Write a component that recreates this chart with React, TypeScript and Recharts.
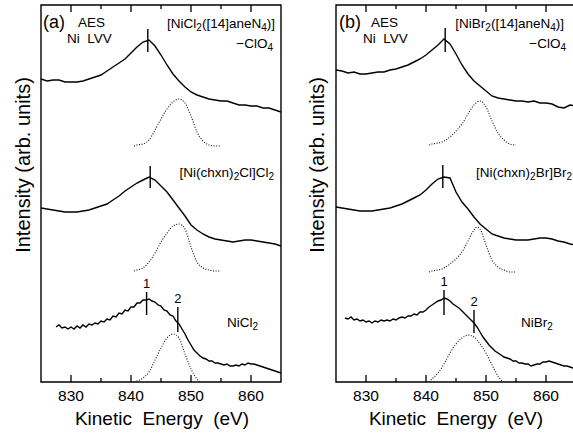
import React from "react";
import {
  LineChart,
  Line,
  XAxis,
  YAxis,
  ReferenceArea,
  ReferenceLine,
} from "recharts";

// kinetic energy grid (eV) shared by the full-range spectra
const energyFull = [
  825, 826, 827, 828, 829, 830, 831, 832, 833, 834, 835, 836, 837, 838, 839,
  840, 841, 842, 843, 844, 845, 846, 847, 848, 849, 850, 851, 852, 853, 854,
  855, 856, 857, 858, 859, 860, 861, 862, 863, 864, 865,
];
const xTicks = [830, 835, 840, 845, 850, 855, 860];

// (a) chloride series, intensities in arb. units (offset stacked)
const aClO4 = [
  303, 301, 302, 302, 300, 300, 300, 301, 303, 305, 307, 311, 315, 319, 323,
  329, 335, 340, 342, 336, 327, 317, 308, 301, 295, 290, 287, 285, 283, 282,
  281, 281, 279, 277, 277, 276, 276, 274, 274, 272, 270,
];
const aChxnCl = [
  174, 173, 172, 171, 170, 170, 170, 171, 172, 174, 176, 178, 182, 186, 191,
  195, 199, 202, 205, 202, 196, 190, 182, 174, 166, 157, 152, 148, 145, 143,
  142, 141, 140, 141, 142, 142, 141, 140, 139, 138, 136,
];
// NiCl2 spectrum, [energy, intensity]
const aNiCl2: [number, number][] = [
  [827.5, 55], [828, 57], [828.5, 54], [829, 55], [829.5, 53], [830, 55], [830.5, 53],
  [831, 56], [831.5, 54], [832, 57], [832.5, 55], [833, 58], [833.5, 57], [834, 59],
  [834.5, 58], [835, 61], [835.5, 60], [836, 63], [836.5, 62], [837, 66], [837.5, 65],
  [838, 69], [838.5, 68], [839, 72], [839.5, 71], [840, 75], [840.5, 75], [841, 79],
  [841.5, 79], [842, 82], [842.5, 82], [843, 83], [843.5, 81], [844, 80], [844.5, 77],
  [845, 76], [845.5, 72], [846, 71], [846.5, 67], [847, 66], [847.5, 61], [848, 58],
  [848.5, 53], [849, 48], [849.5, 42], [850, 37], [850.5, 32], [851, 29], [851.5, 26],
  [852, 24], [852.5, 23], [853, 21], [853.5, 21], [854, 19], [854.5, 19], [855, 18],
  [855.5, 17], [856, 18], [856.5, 16], [857, 16], [857.5, 17], [858, 16], [858.5, 18],
  [859, 17], [859.5, 19], [860, 18], [860.5, 18], [861, 17], [861.5, 16], [862, 15],
  [862.5, 14], [863, 13], [863.5, 12], [864, 11], [864.5, 10], [865, 9],
];
const fitE = [
  840.5, 841, 842, 843, 844, 845, 846, 847, 848, 849, 850, 851, 852, 853, 854,
  855,
];
const aFitClO4 = [
  236, 237, 238, 242, 252, 263, 273, 280, 283, 279, 266, 250, 241, 237, 236,
  236,
];
const aFitChxnCl = [
  111, 112, 114, 120, 129, 140, 149, 156, 158, 153, 135, 120, 114, 112, 111,
  111,
];
const aFitNiCl2E = [840.5, 841, 842, 843, 844, 845, 846, 847, 848, 849, 850, 851, 851.5];
const aFitNiCl2 = [0, 1, 4, 10, 22, 34, 44, 48, 44, 28, 13, 3, 0];

// (b) bromide series
const bClO4 = [
  312, 311, 309, 310, 308, 308, 309, 310, 310, 312, 313, 315, 317, 320, 323,
  327, 332, 337, 343, 338, 328, 317, 308, 301, 296, 291, 286, 284, 283, 282,
  281, 281, 280, 281, 279, 279, 278, 275, 274, 277, 276,
];
const bChxnBr = [
  175, 174, 173, 172, 171, 171, 171, 172, 173, 174, 176, 178, 181, 184, 187,
  192, 198, 203, 205, 204, 190, 180, 173, 165, 158, 153, 148, 146, 144, 143,
  142, 142, 142, 143, 144, 144, 143, 141, 140, 138, 137,
];
const bNiBr2: [number, number][] = [
  [826.5, 64], [827, 63], [827.5, 65], [828, 62], [828.5, 63], [829, 61], [829.5, 62],
  [830, 60], [830.5, 61], [831, 59], [831.5, 61], [832, 60], [832.5, 62], [833, 61],
  [833.5, 62], [834, 61], [834.5, 63], [835, 62], [835.5, 64], [836, 65], [836.5, 64],
  [837, 66], [837.5, 66], [838, 68], [838.5, 67], [839, 70], [839.5, 70], [840, 72],
  [840.5, 75], [841, 77], [841.5, 79], [842, 81], [842.5, 82], [843, 84], [843.5, 83],
  [844, 81], [844.5, 78], [845, 76], [845.5, 74], [846, 71], [846.5, 68], [847, 65],
  [847.5, 62], [848, 59], [848.5, 55], [849, 50], [849.5, 45], [850, 41], [850.5, 37],
  [851, 34], [851.5, 31], [852, 29], [852.5, 27], [853, 25], [853.5, 24], [854, 23],
  [854.5, 21], [855, 21], [855.5, 19], [856, 19], [856.5, 18], [857, 18], [857.5, 16],
  [858, 17], [858.5, 18], [859, 18], [859.5, 20], [860, 20], [860.5, 21], [861, 20],
  [861.5, 19], [862, 18], [862.5, 17], [863, 16], [863.5, 16], [864, 15], [864.5, 14],
  [865, 14],
];
const bFitClO4 = [
  237, 238, 239, 241, 245, 251, 258, 268, 277, 281, 275, 261, 249, 242, 238,
  237,
];
const bFitChxnBrE = [
  840.5, 841, 842, 843, 844, 845, 846, 847, 848, 848.5, 849, 850, 851, 852, 853,
  854, 855,
];
const bFitChxnBr = [
  110, 111, 112, 114, 118, 123, 130, 141, 152, 155, 153, 137, 122, 115, 112,
  110, 110,
];
const bFitNiBr2E = [840.5, 841, 842, 843, 844, 845, 846, 847, 848, 849, 850, 851, 852, 852.8];
const bFitNiBr2 = [0, 3, 9, 18, 29, 38, 44, 47, 45, 38, 29, 17, 6, 0];

// peak markers: energy, low, high (arb. units)
const aMarkers = [
  { e: 842.8, lo: 330, hi: 353, label: "" },
  { e: 843.2, lo: 194, hi: 216, label: "" },
  { e: 842.6, lo: 67, hi: 90, label: "1" },
  { e: 847.8, lo: 50, hi: 75, label: "2" },
];
const bMarkers = [
  { e: 843.2, lo: 330, hi: 354, label: "" },
  { e: 842.8, lo: 194, hi: 217, label: "" },
  { e: 843.0, lo: 67, hi: 92, label: "1" },
  { e: 848.0, lo: 49, hi: 72, label: "2" },
];

const FONT = "'Liberation Sans', Arial, Helvetica, sans-serif";

const zip = (es: number[], vs: number[]) => es.map((e, i) => ({ e, v: vs[i] }));
const fromPairs = (ps: [number, number][]) => ps.map(([e, v]) => ({ e, v }));

function BottomTick(props: any) {
  const { x, y, payload } = props;
  const major = payload.value % 10 === 0;
  return (
    <g>
      <line x1={x} x2={x} y1={y} y2={y - (major ? 7 : 4)} stroke="#000" strokeWidth={1.3} />
      {major && (
        <text x={x} y={y + 19} textAnchor="middle" fontSize={15.5} fontFamily={FONT} fill="#000">
          {payload.value}
        </text>
      )}
    </g>
  );
}

function TopTick(props: any) {
  const { x, y, payload } = props;
  const major = payload.value % 10 === 0;
  return <line x1={x} x2={x} y1={y} y2={y + (major ? 7 : 4)} stroke="#000" strokeWidth={1.3} />;
}

interface PanelProps {
  solid: { e: number; v: number }[][];
  dotted: { e: number; v: number }[][];
  markers: { e: number; lo: number; hi: number; label: string }[];
}

function Panel({ solid, dotted, markers }: PanelProps) {
  return (
    <LineChart width={290} height={433} margin={{ top: 4, right: 9, bottom: 50, left: 41 }}>
      <XAxis
        dataKey="e"
        type="number"
        domain={[825, 865]}
        ticks={xTicks}
        interval={0}
        height={1}
        tickSize={0}
        tickMargin={0}
        axisLine={false}
        tick={<BottomTick />}
        allowDataOverflow
      />
      <XAxis
        xAxisId="top"
        orientation="top"
        dataKey="e"
        type="number"
        domain={[825, 865]}
        ticks={xTicks}
        interval={0}
        height={1}
        tickSize={0}
        tickMargin={0}
        axisLine={false}
        tick={<TopTick />}
        allowDataOverflow
      />
      <YAxis type="number" domain={[0, 377]} width={0} tick={false} axisLine={false} allowDataOverflow />
      <ReferenceArea x1={825} x2={865} y1={0} y2={377} fill="none" stroke="#000" strokeWidth={1.4} fillOpacity={0} />
      {dotted.map((d, i) => (
        <Line
          key={"d" + i}
          data={d}
          dataKey="v"
          type="monotone"
          stroke="#111"
          strokeWidth={1.1}
          strokeDasharray="1 1.6"
          dot={false}
          isAnimationActive={false}
        />
      ))}
      {solid.map((d, i) => (
        <Line
          key={"s" + i}
          data={d}
          dataKey="v"
          type="linear"
          stroke="#000"
          strokeWidth={1.4}
          dot={false}
          isAnimationActive={false}
        />
      ))}
      {markers.map((m, i) => (
        <ReferenceLine
          key={"m" + i}
          segment={[
            { x: m.e, y: m.lo },
            { x: m.e, y: m.hi },
          ]}
          stroke="#000"
          strokeWidth={1.4}
          label={
            m.label
              ? (p: any) => (
                  <text
                    x={p.viewBox.x + p.viewBox.width / 2}
                    y={p.viewBox.y - 4}
                    textAnchor="middle"
                    fontSize={13}
                    fontFamily={FONT}
                    fill="#000"
                  >
                    {m.label}
                  </text>
                )
              : undefined
          }
        />
      ))}
    </LineChart>
  );
}

// chemical formula: alternating normal text and subscripts, e.g. ["NiCl", "2"]
function Chem({ parts, ...rest }: { parts: string[] } & React.SVGProps<SVGTextElement>) {
  return (
    <text fontFamily={FONT} fill="#000" fontSize={13.5} {...rest}>
      {parts.map((p, i) =>
        i % 2 === 1 ? (
          <tspan key={i} fontSize={10} dy={3}>
            {p}
          </tspan>
        ) : (
          <tspan key={i} dy={i > 0 ? -3 : 0}>
            {p}
          </tspan>
        )
      )}
    </text>
  );
}

export default function App() {
  const text = { fontFamily: FONT, fill: "#000" } as const;
  return (
    <div style={{ position: "absolute", left: 0, top: 0, width: 573, height: 433, overflow: "hidden", background: "#fff" }}>
      <div style={{ position: "absolute", left: 0, top: 0 }}>
        <Panel
          solid={[zip(energyFull, aClO4), zip(energyFull, aChxnCl), fromPairs(aNiCl2)]}
          dotted={[zip(fitE, aFitClO4), zip(fitE, aFitChxnCl), zip(aFitNiCl2E, aFitNiCl2)]}
          markers={aMarkers}
        />
      </div>
      <div style={{ position: "absolute", left: 295, top: 0 }}>
        <Panel
          solid={[zip(energyFull, bClO4), zip(energyFull, bChxnBr), fromPairs(bNiBr2)]}
          dotted={[zip(fitE, bFitClO4), zip(bFitChxnBrE, bFitChxnBr), zip(bFitNiBr2E, bFitNiBr2)]}
          markers={bMarkers}
        />
      </div>
      <svg width={573} height={433} style={{ position: "absolute", left: 0, top: 0, pointerEvents: "none" }}>
        {/* axis titles */}
        <text {...text} fontSize={20} textAnchor="middle" transform="translate(30,165) rotate(-90)">
          Intensity (arb. units)
        </text>
        <text {...text} fontSize={20} textAnchor="middle" transform="translate(324,165) rotate(-90)">
          Intensity (arb. units)
        </text>
        <text {...text} fontSize={19} textAnchor="middle" x={162} y={425} style={{ whiteSpace: "pre" }}>
          {"Kinetic  Energy  (eV)"}
        </text>
        <text {...text} fontSize={19} textAnchor="middle" x={456} y={425} style={{ whiteSpace: "pre" }}>
          {"Kinetic  Energy  (eV)"}
        </text>

        {/* panel (a) annotations */}
        <text {...text} fontSize={18} x={43} y={28}>(a)</text>
        <text {...text} fontSize={13.5} x={78} y={27}>AES</text>
        <text {...text} fontSize={13.5} x={67} y={43} style={{ whiteSpace: "pre" }}>{"Ni  LVV"}</text>
        <Chem parts={["[NiCl", "2", "([14]aneN", "4", ")]"]} x={275} y={28} textAnchor="end" />
        <Chem parts={["−ClO", "4"]} x={273} y={48} textAnchor="end" />
        <Chem parts={["[Ni(chxn)", "2", "Cl]Cl", "2"]} x={274} y={177} textAnchor="end" />
        <Chem parts={["NiCl", "2"]} x={227} y={327} />

        {/* panel (b) annotations */}
        <text {...text} fontSize={18} x={339} y={28}>(b)</text>
        <text {...text} fontSize={13.5} x={371} y={27}>AES</text>
        <text {...text} fontSize={13.5} x={363} y={43} style={{ whiteSpace: "pre" }}>{"Ni  LVV"}</text>
        <Chem parts={["[NiBr", "2", "([14]aneN", "4", ")]"]} x={564} y={28} textAnchor="end" />
        <Chem parts={["−ClO", "4"]} x={566} y={48} textAnchor="end" />
        <Chem parts={["[Ni(chxn)", "2", "Br]Br", "2"]} x={572} y={177} textAnchor="end" />
        <Chem parts={["NiBr", "2"]} x={521} y={327} />
      </svg>
    </div>
  );
}
